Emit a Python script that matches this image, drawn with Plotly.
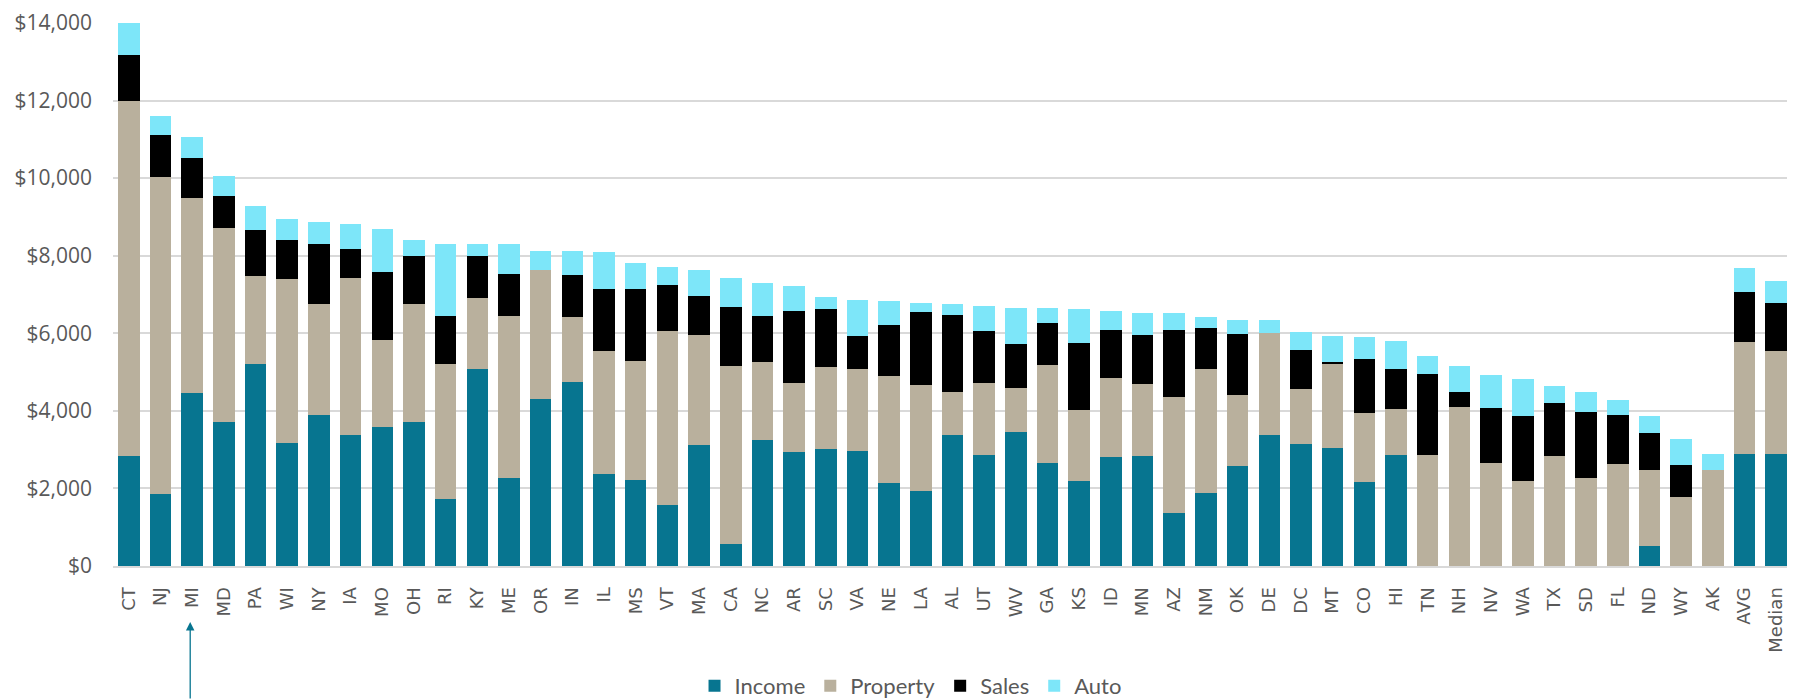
import plotly.graph_objects as go

states = ["CT", "NJ", "MI", "MD", "PA", "WI", "NY", "IA", "MO", "OH", "RI", "KY", "ME",
          "OR", "IN", "IL", "MS", "VT", "MA", "CA", "NC", "AR", "SC", "VA", "NE", "LA",
          "AL", "UT", "WV", "GA", "KS", "ID", "MN", "AZ", "NM", "OK", "DE", "DC", "MT",
          "CO", "HI", "TN", "NH", "NV", "WA", "TX", "SD", "FL", "ND", "WY", "AK", "AVG",
          "Median"]

income = [2830, 1860, 4460, 3700, 5215, 3175, 3895, 3380, 3590, 3715, 1725, 5075, 2275,
          4300, 4745, 2385, 2225, 1580, 3125, 565, 3245, 2935, 3005, 2970, 2140, 1935,
          3380, 2865, 3460, 2650, 2195, 2815, 2840, 1370, 1885, 2580, 3380, 3140, 3055,
          2175, 2855, 0, 0, 0, 0, 0, 0, 0, 515, 0, 0, 2890, 2900]

property_tax = [9170, 8170, 5035, 5005, 2270, 4220, 2850, 4035, 2235, 3040, 3490, 1845, 4170,
                3340, 1665, 3160, 3065, 4490, 2825, 4585, 2015, 1780, 2130, 2105, 2755, 2725,
                1110, 1860, 1125, 2545, 1815, 2020, 1850, 3000, 3190, 1835, 2630, 1420, 2175,
                1780, 1195, 2855, 4095, 2650, 2200, 2845, 2270, 2640, 1960, 1770, 2485, 2890,
                2650]

sales = [1170, 1075, 1025, 840, 1185, 1015, 1565, 750, 1765, 1250, 1235, 1065, 1080,
         0, 1090, 1595, 1855, 1165, 1020, 1535, 1175, 1855, 1500, 865, 1325, 1895,
         1970, 1340, 1145, 1075, 1735, 1255, 1265, 1720, 1060, 1565, 0, 1000, 30,
         1385, 1040, 2100, 395, 1420, 1680, 1360, 1705, 1250, 965, 835, 0, 1280, 1230]

auto = [830, 510, 530, 510, 620, 540, 550, 640, 1105, 405, 1865, 310, 765,
        480, 620, 960, 670, 470, 655, 730, 860, 660, 300, 930, 620, 230,
        295, 645, 920, 370, 885, 475, 575, 440, 285, 370, 335, 480, 680,
        570, 700, 465, 665, 845, 930, 440, 510, 395, 430, 665, 395, 620, 570]

series = [
    ("Income", income, "#077590"),
    ("Property", property_tax, "#b9b09d"),
    ("Sales", sales, "#000000"),
    ("Auto", auto, "#7de6f9"),
]

fig = go.Figure()
for name, vals, color in series:
    fig.add_trace(go.Bar(
        x=states, y=vals, name=name,
        marker=dict(color=color, line=dict(width=0)),
    ))

# arrow pointing at MI
fig.add_annotation(
    x="MI", y=-0.103, xref="x", yref="paper",
    ax=0, ay=90, text="", showarrow=True, xshift=-2,
    arrowhead=2, arrowsize=1.3, arrowwidth=1.3, arrowcolor="#077590",
)

# page body has an 8px margin, so the figure is sized/positioned to compensate
fig.update_layout(
    barmode="stack",
    bargap=0.32,
    width=1787, height=692,
    margin=dict(l=105, r=3, t=15, b=134, autoexpand=False),
    plot_bgcolor="white",
    paper_bgcolor="white",
    font=dict(family="Open Sans", color="#595959"),
    xaxis=dict(
        automargin=False,
        tickangle=-90,
        tickfont=dict(family="DejaVu Sans", size=18, color="#595959"),
        ticklabelstandoff=12,
        showgrid=False,
        showline=True, linecolor="#d9d9d9", linewidth=2,
        ticks="",
    ),
    yaxis=dict(
        automargin=False,
        range=[0, 14000],
        dtick=2000,
        tickprefix="$",
        tickformat=",",
        tickfont=dict(family="Open Sans", size=21, color="#595959"),
        ticklabelstandoff=20,
        gridcolor="#d9d9d9", gridwidth=1.5,
        zeroline=False,
        ticks="",
    ),
    legend=dict(
        orientation="h",
        x=0.475, xanchor="center",
        y=-0.221, yanchor="middle",
        font=dict(family="Lato", size=22, color="#595959"),
        traceorder="normal",
    ),
    showlegend=True,
)

fig.write_html("out.html")
